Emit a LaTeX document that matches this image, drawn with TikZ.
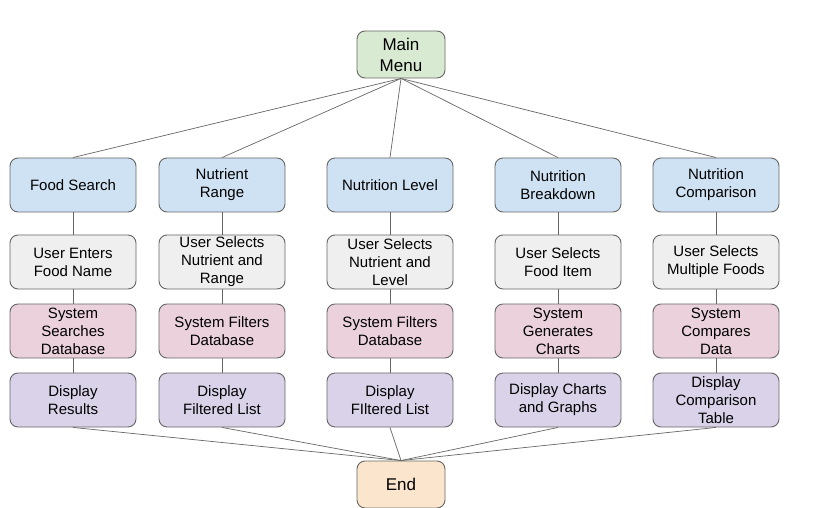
\documentclass[tikz,border=0pt]{standalone}
\usepackage{fontspec}
\setmainfont{Liberation Sans}
\definecolor{menugreen}{HTML}{D9EAD3}
\definecolor{featblue}{HTML}{CFE2F3}
\definecolor{usergray}{HTML}{EFEFEF}
\definecolor{syspink}{HTML}{EAD1DC}
\definecolor{showpurple}{HTML}{D9D2E9}
\definecolor{endorange}{HTML}{FCE5CD}
\definecolor{edgegray}{HTML}{666666}
\tikzset{
 box/.style={draw=edgegray, line width=0.9pt, rounded corners=8pt, minimum width=126pt, minimum height=54pt, align=center, font=\fontsize{15}{18}\selectfont, inner sep=1pt},
 term/.style={draw=edgegray, line width=0.9pt, rounded corners=8pt, minimum width=88pt, minimum height=47pt, align=center, font=\fontsize{17}{21}\selectfont, inner sep=1pt},
 link/.style={draw=edgegray, line width=0.7pt}
}
\begin{document}
\begin{tikzpicture}[x=1pt, y=-1pt]
 \useasboundingbox (0, 0) rectangle (831, 508);
 \node [term, fill=menugreen] (main) at (401, 54.5) {Main\\Menu};
 \node [term, fill=endorange] (end) at (401, 484.5) {End};
 % feature row
 \node [box, fill=featblue] (food) at (73, 185) {Food Search};
 \node [box, fill=featblue] (range) at (222, 185) {Nutrient\\Range};
 \node [box, fill=featblue] (level) at (390, 185) {Nutrition Level};
 \node [box, fill=featblue] (breakdown) at (558, 185) {Nutrition\\Breakdown};
 \node [box, fill=featblue] (compare) at (716, 185) {Nutrition\\Comparison};
 % user row
 \node [box, fill=usergray] (food user) at (73, 262) {User Enters\\Food Name};
 \node [box, fill=usergray] (range user) at (222, 262) {User Selects\\Nutrient and\\Range};
 \node [box, fill=usergray] (level user) at (390, 262) {User Selects\\Nutrient and\\Level};
 \node [box, fill=usergray] (breakdown user) at (558, 262) {User Selects\\Food Item};
 \node [box, fill=usergray] (compare user) at (716, 262) {User Selects\\Multiple Foods};
 % system row
 \node [box, fill=syspink] (food sys) at (73, 331) {System\\Searches\\Database};
 \node [box, fill=syspink] (range sys) at (222, 331) {System Filters\\Database};
 \node [box, fill=syspink] (level sys) at (390, 331) {System Filters\\Database};
 \node [box, fill=syspink] (breakdown sys) at (558, 331) {System\\Generates\\Charts};
 \node [box, fill=syspink] (compare sys) at (716, 331) {System\\Compares\\Data};
 % display row
 \node [box, fill=showpurple] (food show) at (73, 400) {Display\\Results};
 \node [box, fill=showpurple] (range show) at (222, 400) {Display\\Filtered List};
 \node [box, fill=showpurple] (level show) at (390, 400) {Display\\FIltered List};
 \node [box, fill=showpurple] (breakdown show) at (558, 400) {Display Charts\\and Graphs};
 \node [box, fill=showpurple] (compare show) at (716, 400) {Display\\Comparison\\Table};
 \foreach \f in {food, range, level, breakdown, compare} {
  \draw [link] (main.south) -- (\f.north);
  \draw [link] (\f) -- (\f\space user);
  \draw [link] (\f\space user) -- (\f\space sys);
  \draw [link] (\f\space sys) -- (\f\space show);
  \draw [link] (\f\space show.south) -- (end.north);
 }
\end{tikzpicture}
\end{document}
